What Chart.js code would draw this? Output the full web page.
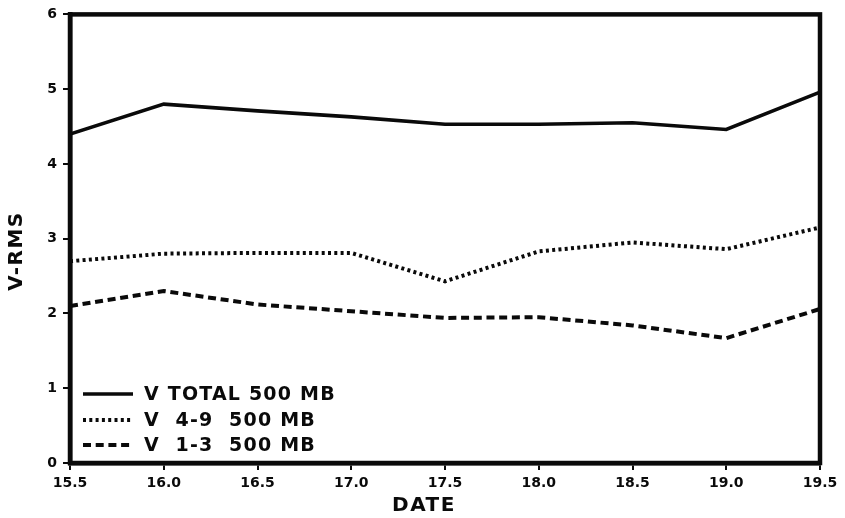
<!DOCTYPE html>
<html>
<head>
<meta charset="utf-8">
<script src="https://cdn.jsdelivr.net/npm/chart.js@4/dist/chart.umd.min.js"></script>
<style>
  html, body { margin: 0; padding: 0; background: #fff; }
  #wrap { width: 845px; height: 518px; }
</style>
</head>
<body>
<div id="wrap"><canvas id="c" width="845" height="518"></canvas></div>
<script>
// Days (decimal date) and RMS meridional wind at 500 mb
const dates   = [15.5, 16.0, 16.5, 17.0, 17.5, 18.0, 18.5, 19.0, 19.5];
const vTotal  = [4.40, 4.80, 4.71, 4.63, 4.53, 4.53, 4.55, 4.46, 4.96];
const v4to9   = [2.70, 2.80, 2.81, 2.81, 2.43, 2.83, 2.95, 2.86, 3.15];
const v1to3   = [2.10, 2.30, 2.12, 2.03, 1.94, 1.95, 1.84, 1.67, 2.06];

const xTicks = [15.5, 16.0, 16.5, 17.0, 17.5, 18.0, 18.5, 19.0, 19.5];
const yTicks = [0, 1, 2, 3, 4, 5, 6];

const seriesLabels = ['V TOTAL 500 MB', 'V  4-9  500 MB', 'V  1-3  500 MB'];
const xTitle = 'DATE';
const yTitle = 'V-RMS';

const INK = '#0a0a0a';
const FONT = '"DejaVu Sans", "Liberation Sans", Arial, sans-serif';

const pts = (ys) => dates.map((d, i) => ({ x: d, y: ys[i] }));

const lineStyles = [
  { dash: [],          width: 3.6 },
  { dash: [3, 3.3],    width: 4 },
  { dash: [8, 4.7],    width: 4 }
];

// Frame around the plot, inset legend and axis titles
const decorations = {
  id: 'decorations',
  afterDatasetsDraw(chart) {
    const { ctx, chartArea: a } = chart;
    ctx.save();
    ctx.strokeStyle = INK;
    ctx.lineWidth = 4.5;
    ctx.setLineDash([]);
    ctx.strokeRect(a.left, a.top, a.right - a.left, a.bottom - a.top);

    // legend
    ctx.fillStyle = INK;
    ctx.font = 'bold 19px ' + FONT;
    ctx.letterSpacing = '1.2px';
    ctx.textBaseline = 'middle';
    ctx.textAlign = 'left';
    const rowY = [394, 420, 445];
    chart.data.datasets.forEach((ds, i) => {
      const y = rowY[i];
      ctx.beginPath();
      ctx.lineWidth = lineStyles[i].width;
      ctx.setLineDash(lineStyles[i].dash);
      ctx.moveTo(a.left + 13, y);
      ctx.lineTo(a.left + 63, y);
      ctx.stroke();
      ctx.setLineDash([]);
      ctx.fillText(ds.label, a.left + 74, y + 1);
    });

    // axis titles
    ctx.font = 'bold 20px ' + FONT;
    ctx.letterSpacing = '1.5px';
    ctx.textAlign = 'center';
    ctx.fillText(xTitle, 424, 506);
    ctx.translate(17, 251);
    ctx.rotate(-Math.PI / 2);
    ctx.fillText(yTitle, 0, 0);
    ctx.restore();
  }
};

new Chart(document.getElementById('c'), {
  type: 'line',
  data: {
    datasets: seriesLabels.map((label, i) => ({
      label,
      data: pts([vTotal, v4to9, v1to3][i]),
      borderColor: INK,
      borderWidth: lineStyles[i].width,
      borderDash: lineStyles[i].dash,
      pointRadius: 0,
      tension: 0,
      fill: false
    }))
  },
  options: {
    responsive: false,
    animation: false,
    layout: { padding: { top: 13, right: 25, left: 0, bottom: 0 } },
    plugins: { legend: { display: false }, tooltip: { enabled: false } },
    scales: {
      x: {
        type: 'linear',
        min: 15.5, max: 19.5,
        afterBuildTicks: (s) => { s.ticks = xTicks.map(v => ({ value: v })); },
        afterFit: (s) => { s.height = 55; },
        ticks: {
          color: INK,
          font: { family: FONT, size: 14, weight: 'bold' },
          padding: 5,
          maxRotation: 0,
          callback: (v) => Number(v).toFixed(1)
        },
        grid: { drawOnChartArea: false, color: INK, lineWidth: 2, tickLength: 7 },
        border: { display: true, color: INK, width: 4.5 }
      },
      y: {
        min: 0, max: 6,
        afterBuildTicks: (s) => { s.ticks = yTicks.map(v => ({ value: v })); },
        afterFit: (s) => { s.width = 70; },
        ticks: {
          color: INK,
          font: { family: FONT, size: 14, weight: 'bold' },
          padding: 6,
          callback: (v) => String(v)
        },
        grid: { drawOnChartArea: false, color: INK, lineWidth: 2, tickLength: 7 },
        border: { display: true, color: INK, width: 4.5 }
      }
    }
  },
  plugins: [decorations]
});
</script>
</body>
</html>
